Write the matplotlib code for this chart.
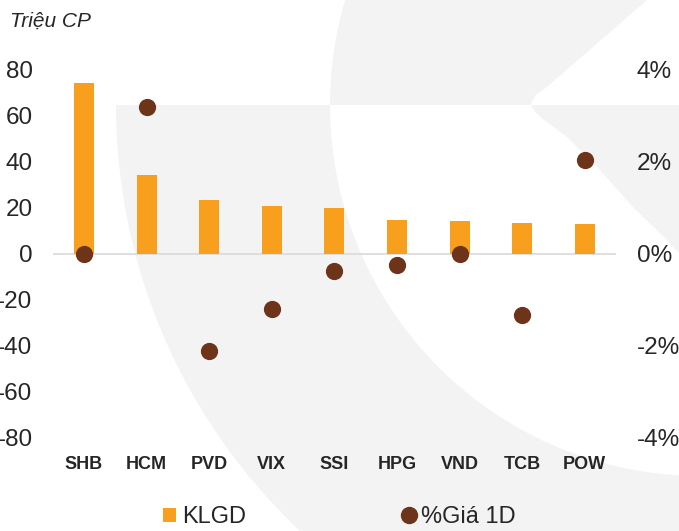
import numpy as np
import matplotlib
matplotlib.use('Agg')
import matplotlib.pyplot as plt
from matplotlib.patches import Polygon
from matplotlib.lines import Line2D
from matplotlib.patches import Patch

plt.rcParams['font.family'] = ['Liberation Sans', 'DejaVu Sans']
plt.rcParams['axes.unicode_minus'] = False

# data
tickers = ['SHB', 'HCM', 'PVD', 'VIX', 'SSI', 'HPG', 'VND', 'TCB', 'POW']
klgd = [74.3, 34.5, 23.6, 20.7, 20.2, 14.8, 14.3, 13.6, 13.2]      # Triệu CP
gia_1d = [0.0, 3.2, -2.1, -1.2, -0.38, -0.23, 0.0, -1.33, 2.05]   # %
left_ticks = [-80, -60, -40, -20, 0, 20, 40, 60, 80]
right_ticks = [-4, -2, 0, 2, 4]

BAR = '#F8A01D'
DOT = '#6E341A'
TXT = '#262626'
WM = '#F3F3F3'

W, H = 679, 531
fig = plt.figure(figsize=(W / 100, H / 100), dpi=100)

# faint watermark in the background (pixel coordinates)
bg = fig.add_axes([0, 0, 1, 1], zorder=-10)
bg.set_xlim(0, W)
bg.set_ylim(H, 0)
bg.axis('off')
cx, cy, r_in, r_out = 701, 105, 371, 585
t = np.linspace(np.pi, np.pi / 2, 200)
outer = np.c_[cx + r_out * np.cos(t), cy + r_out * np.sin(t)]
inner = np.c_[cx + r_in * np.cos(t[::-1]), cy + r_in * np.sin(t[::-1])]
bg.add_patch(Polygon(np.vstack([outer, inner]), closed=True, fc=WM, ec='none'))
t2 = np.linspace(np.pi, np.pi + np.arcsin(cy / r_in), 50)
up_left = np.c_[cx + r_in * np.cos(t2), cy + r_in * np.sin(t2)]
up = np.vstack([up_left, [[647, 0], [548, 86], [536, 95], [532, 101], [531, 105]]])
bg.add_patch(Polygon(up, closed=True, fc=WM, ec='none'))
right = [[531, 105], [679, 105], [679, 253], [667, 240], [633, 207],
         [600, 170], [567, 137], [543, 119], [535, 112]]
bg.add_patch(Polygon(right, closed=True, fc=WM, ec='none'))

ax = fig.add_axes([52.7 / W, (H - 438) / H, 563.3 / W, 368 / H])
ax.set_facecolor('none')
x = np.arange(len(tickers))
ax.bar(x, klgd, width=0.32, color=BAR, zorder=2)
ax.axhline(0, color='#D9D9D9', lw=1.2, zorder=1)
ax.set_xlim(-0.5, len(tickers) - 0.5)
ax.set_ylim(-80, 80)
ax.set_yticks(left_ticks)
ax.set_xticks(x)
ax.set_xticklabels(tickers, fontweight='bold', fontsize=13, color=TXT)
ax.tick_params(axis='x', length=0, pad=13)
ax.tick_params(axis='y', length=0, pad=14.5, labelsize=17.5, labelcolor=TXT)
for s in ax.spines.values():
    s.set_visible(False)

ax2 = ax.twinx()
ax2.scatter(x, gia_1d, s=130, color=DOT, zorder=3)
ax2.set_ylim(-4, 4)
ax2.set_yticks(right_ticks)
ax2.set_yticklabels([f'{v}%' for v in right_ticks])
ax2.tick_params(axis='y', length=0, pad=15, labelsize=17.5, labelcolor=TXT)
for s in ax2.spines.values():
    s.set_visible(False)

fig.text(10 / W, 1 - 21 / H, 'Triệu CP', fontsize=15, style='italic',
         color=TXT, va='center', ha='left')

handles = [Patch(fc=BAR, ec='none'),
           Line2D([], [], ls='none', marker='o', ms=11.5, color=DOT)]
fig.legend(handles, ['KLGD', '%Giá 1D'], loc='center', ncol=2,
           bbox_to_anchor=(0.500, 1 - 517 / H), frameon=False, fontsize=17,
           handlelength=0.55, handleheight=0.55, handletextpad=0.25,
           columnspacing=6.6, labelcolor=TXT)

fig.savefig('out.png', dpi=100)
